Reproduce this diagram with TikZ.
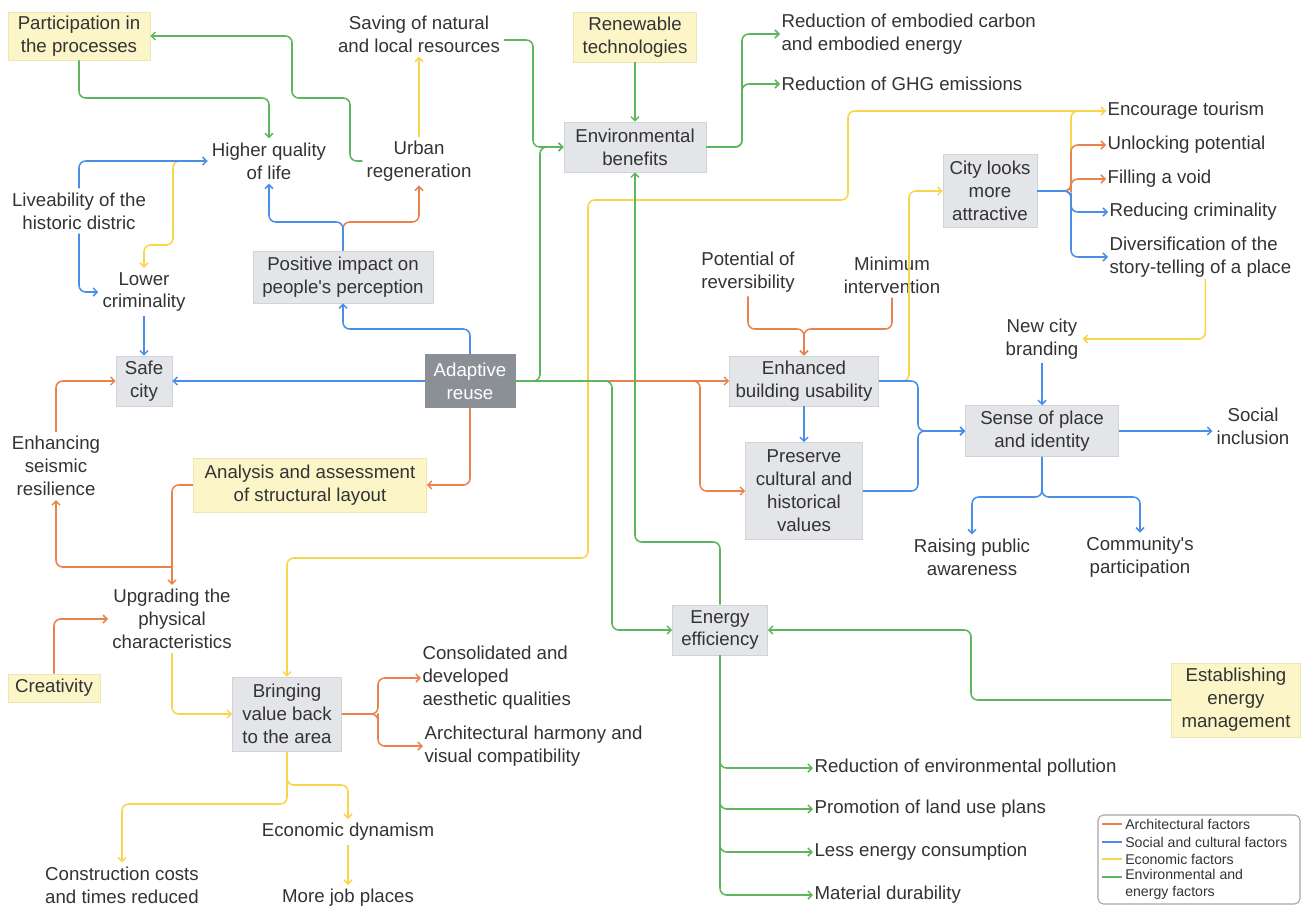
\documentclass[tikz,border=0pt]{standalone}
\usepackage{fontspec}
\setmainfont{Liberation Sans}
\usetikzlibrary{positioning,arrows.meta,calc}
\definecolor{archc}{HTML}{E8834E}
\definecolor{socc}{HTML}{4A8FE7}
\definecolor{ecoc}{HTML}{F8D54B}
\definecolor{envc}{HTML}{5DB65D}
\definecolor{boxg}{HTML}{E3E5E9}
\definecolor{boxgl}{HTML}{D0D3D8}
\definecolor{boxy}{HTML}{FBF5C8}
\definecolor{boxyl}{HTML}{ECE6B4}
\definecolor{reuse}{HTML}{8B9097}
\definecolor{ink}{HTML}{333333}
\newlength\px
\setlength\px{0.75pt}
\tikzset{
  gbox/.style={draw=boxgl, fill=boxg, align=center, inner sep=2pt},
  ybox/.style={draw=boxyl, fill=boxy, align=center, inner sep=2pt},
  txt/.style={align=center, inner sep=3pt},
  lt/.style={anchor=west, align=left, inner sep=1pt},
  con/.style={line width=1.15pt, rounded corners=5pt, -{Straight Barb[length=3pt,width=6pt]}},
  arch/.style={con, draw=archc},
  soc/.style={con, draw=socc},
  eco/.style={con, draw=ecoc},
  env/.style={con, draw=envc},
  lgt/.style={font=\fontsize{10.6}{13}\selectfont, inner sep=0pt, align=left}}

\begin{document}
\begin{tikzpicture}[x=0.75pt, y=-0.75pt, font=\fontsize{14}{17.2}\selectfont, text=ink]
\useasboundingbox (0,0) rectangle (1314,907);
\node[ybox, minimum width=142\px, minimum height=48\px] (pp) at (79,36) {Participation in\\the processes};
\node[txt] (sn) at (419,34) {Saving of natural\\and local resources};
\node[ybox, minimum width=123\px, minimum height=50\px] (rt) at (635,37) {Renewable\\technologies};
\node[lt] (rc) at (780,34) {Reduction of embodied carbon\\and embodied energy};
\node[lt] (rg) at (780,84) {Reduction of GHG emissions};
\node[gbox, minimum width=142\px, minimum height=50\px] (eb) at (635,147) {Environmental\\benefits};
\node[txt] (hq) at (269,161) {Higher quality\\of life};
\node[txt] (ur) at (419,161) {Urban\\regeneration};
\node[txt] (lv) at (79,211) {Liveability of the\\historic distric};
\node[txt] (lc) at (144,292) {Lower\\criminality};
\node[gbox, minimum width=180\px, minimum height=52\px] (pi) at (343,277) {Positive impact on\\people\textquotesingle s perception};
\node[lt] (et) at (1106,111) {Encourage tourism};
\node[lt] (up) at (1106,145) {Unlocking potential};
\node[lt] (fv) at (1106,179) {Filling a void};
\node[lt] (rcr) at (1108,212) {Reducing criminality};
\node[lt] (dv) at (1108,257) {Diversification of the\\story-telling of a place};
\node[gbox, minimum width=94\px, minimum height=73\px] (cl) at (990,191) {City looks\\more\\attractive};
\node[txt] (pr) at (748,272) {Potential of\\reversibility};
\node[txt] (mi) at (892,275) {Minimum\\intervention};
\node[txt] (nb) at (1042,339) {New city\\branding};
\node[gbox, minimum width=56\px, minimum height=50\px] (sc) at (144,381) {Safe\\city};
\node[gbox, fill=reuse, draw=reuse, text=white, minimum width=90\px, minimum height=53\px] (ar) at (470,381) {Adaptive\\reuse};
\node[gbox, minimum width=149\px, minimum height=50\px] (eu) at (804,381) {Enhanced\\building usability};
\node[gbox, minimum width=153\px, minimum height=51\px] (sp) at (1042,431) {Sense of place\\and identity};
\node[txt] (si) at (1253,426) {Social\\inclusion};
\node[txt] (es) at (56,466) {Enhancing\\seismic\\resilience};
\node[ybox, minimum width=233\px, minimum height=54\px] (an) at (310,485) {Analysis and assessment\\of structural layout};
\node[gbox, minimum width=117\px, minimum height=97\px] (pc) at (804,491) {Preserve\\cultural and\\historical\\values};
\node[txt] (ra) at (972,557) {Raising public\\awareness};
\node[txt] (cp) at (1140,557) {Community\textquotesingle s\\participation};
\node[txt] (ug) at (172,619) {Upgrading the\\physical\\characteristics};
\node[gbox, minimum width=95\px, minimum height=50\px] (ee) at (720,630) {Energy\\efficiency};
\node[ybox, minimum width=92\px, minimum height=28\px] (cr) at (54,688) {Creativity};
\node[ybox, minimum width=129\px, minimum height=74\px] (em) at (1236,700) {Establishing\\energy\\management};
\node[gbox, minimum width=109\px, minimum height=74\px] (bv) at (287,714) {Bringing\\value back\\to the area};
\node[lt] (ca) at (421,678) {Consolidated and\\developed\\aesthetic qualities};
\node[lt] (ah) at (423,746) {Architectural harmony and\\visual compatibility};
\node[lt] (rp) at (813,768) {Reduction of environmental pollution};
\node[lt] (pl) at (813,809) {Promotion of land use plans};
\node[txt] (ed) at (348,832) {Economic dynamism};
\node[lt] (lec) at (813,852) {Less energy consumption};
\node[txt] (cc) at (122,885) {Construction costs\\and times reduced};
\node[txt] (mj) at (348,898) {More job places};
\node[lt] (md) at (813,895) {Material durability};
\coordinate (j1) at (172,567);
\draw[eco] (ur.north) -- (sn.south);
\draw[eco] (hq.west) -| (173,245) -| (lc.north);
\draw[eco] (et.west) -| (848,200) -| (588,558) -| (bv.north);
\draw[eco] (cl.east) -| (1071,170) |- (et.west);
\draw[eco] (eu.east) -| (909,191) -- (cl.west);
\draw[eco] ([xshift=5\px]dv.south) |- (nb.east);
\draw[eco] (ug.south) |- (bv.west);
\draw[eco] (bv.south) |- (348,785) -- (ed.north);
\draw[eco] (bv.south) |- (122,804) -- (cc.north);
\draw[eco] (ed.south) -- (mj.north);
\draw[arch] (pi.north) |- (419,222) -- (ur.south);
\draw[arch] (ar.east) -- (eu.west);
\draw[arch] (ar.east) -| (700,491) -- (pc.west);
\draw[arch] (pr.south) |- (804,329) -- (eu.north);
\draw[arch] (mi.south) |- (804,329) -- (eu.north);
\draw[arch] (ar.south) |- (an.east);
\draw[arch] (an.west) -| (ug.north);
\draw[arch] (j1) -| (es.south);
\draw[arch] (es.north) |- (sc.west);
\draw[arch] (cr.north) |- (ug.west);
\draw[arch] (bv.east) -| (378,700) |- (ca.west);
\draw[arch] (bv.east) -| (378,720) |- (ah.west);
\draw[arch] (cl.east) -| (1071,180) |- (up.west);
\draw[arch] (cl.east) -| (1071,186) |- (fv.west);
\draw[soc] (lv.north) |- (hq.west);
\draw[soc] (lv.south) |- (lc.west);
\draw[soc] (lc.south) -- (sc.north);
\draw[soc] (ar.west) -- (sc.east);
\draw[soc] (ar.north) |- (343,329) -- (pi.south);
\draw[soc] (pi.north) |- (269,222) -- (hq.south);
\draw[soc] (eu.east) -| (918,431) -- (sp.west);
\draw[soc] (pc.east) -| (918,431) -- (sp.west);
\draw[soc] (eu.south) -- (pc.north);
\draw[soc] (nb.south) -- (sp.north);
\draw[soc] (sp.east) -- (sp.east -| si.west);
\draw[soc] (sp.south) |- (972,497) -- (ra.north);
\draw[soc] (sp.south) |- (1140,497) -- (cp.north);
\draw[soc] (cl.east) -| (1071,200) |- (rcr.west);
\draw[soc] (cl.east) -| (1071,200) |- (dv.west);
\draw[env] (ur.west) -| (350,98) -| (292,36) -- (pp.east);
\draw[env] (pp.south) |- (269,98) -- (hq.north);
\draw[env] ([yshift=-6\px]sn.east) -| (533,147) -- (eb.west);
\draw[env] (ar.east) -| (540,147) -- (eb.west);
\draw[env] (rt.south) -- (eb.north);
\draw[env] (eb.east) -| (742,60) |- (rc.west);
\draw[env] (eb.east) -| (742,100) |- (rg.west);
\draw[env] (ar.east) -| (612,630) -- (ee.west);
\draw[env] (ee.north) |- (635,542) -- (eb.south);
\draw[env] (em.west) -| (971,630) -- (ee.east);
\draw[env] (ee.south) |- (rp.west);
\draw[env] (ee.south) |- (pl.west);
\draw[env] (ee.south) |- (lec.west);
\draw[env] (ee.south) |- (md.west);
\draw[gray!70, line width=0.8pt, rounded corners=4pt] (1098,815) rectangle (1300,904);
\draw[archc, line width=1pt] (1102,824) -- (1122,824);
\draw[socc, line width=1pt] (1102,842) -- (1122,842);
\draw[ecoc, line width=1pt] (1102,859) -- (1122,859);
\draw[envc, line width=1pt] (1102,877) -- (1122,877);
\node[lgt, anchor=west] (l1) at (1125,824) {Architectural factors};
\node[lgt, anchor=west] (l2) at (1125,842) {Social and cultural factors};
\node[lgt, anchor=west] (l3) at (1125,859) {Economic factors};
\node[lgt, anchor=north west] (l4) at (1125,869) {Environmental and\\energy factors};
\end{tikzpicture}
\end{document}
